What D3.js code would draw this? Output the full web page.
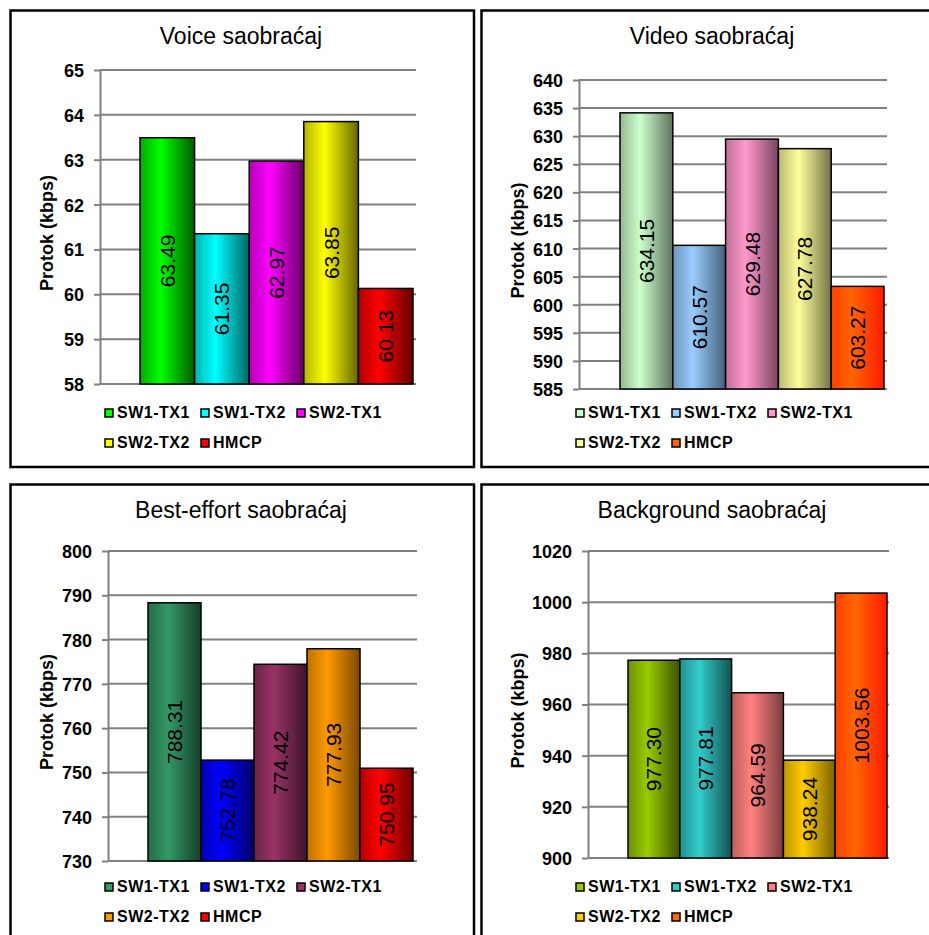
<!DOCTYPE html>
<html lang="sr">
<head>
<meta charset="UTF-8">
<title>Protok po tipu saobraćaja</title>
<script src="https://d3js.org/d3.v7.min.js"></script>
<style>
    body { margin: 0; background: #fff; }
    svg { display: block; font-family: "Liberation Sans", Arial, sans-serif; }
    .title { font-size: 23px; }
    .ytitle { font-size: 18px; font-weight: bold; }
    .axis text { font-size: 18px; font-weight: bold; fill: #000; font-family: "Liberation Sans", Arial, sans-serif; }
    .axis path, .axis line { stroke: #808080; stroke-width: 2; }
    .grid line { stroke: #808080; stroke-width: 2; }
    .vlabel { font-size: 21px; }
    .legend text { font-size: 16px; font-weight: bold; letter-spacing: 0.5px; }
</style>
</head>
<body>
<script>
    // series names (legend)
    var series = ["SW1-TX1", "SW1-TX2", "SW2-TX1", "SW2-TX2", "HMCP"];

    var titles = ["Voice saobraćaj", "Video saobraćaj", "Best-effort saobraćaj", "Background saobraćaj"];
    var yLabel = "Protok (kbps)";

    // values
    var voiceValues = [63.49, 61.35, 62.97, 63.85, 60.13];
    var videoValues = [634.15, 610.57, 629.48, 627.78, 603.27];
    var bestEffortValues = [788.31, 752.78, 774.42, 777.93, 750.95];
    var backgroundValues = [977.30, 977.81, 964.59, 938.24, 1003.56];

    // y tick labels of each chart
    var voiceTicks = [58, 59, 60, 61, 62, 63, 64, 65];
    var videoTicks = [585, 590, 595, 600, 605, 610, 615, 620, 625, 630, 635, 640];
    var bestEffortTicks = [730, 740, 750, 760, 770, 780, 790, 800];
    var backgroundTicks = [900, 920, 940, 960, 980, 1000, 1020];

    // bar colours: centre colour and the darker edge of the gradient
    var voiceColors = [["#00ff00", "#005a00"], ["#00ffff", "#006666"], ["#ff00ff", "#660066"], ["#ffff00", "#666600"], ["#ff0000", "#660000"]];
    var videoColors = [["#ccffcc", "#5e735e"], ["#99ccff", "#45607a"], ["#ff99cc", "#7a4560"], ["#ffff99", "#73734a"], ["#ff6600", "#ff1a00"]];
    var bestEffortColors = [["#339966", "#143d29"], ["#0000ff", "#000066"], ["#993366", "#3d1429"], ["#ff9900", "#7a4a00"], ["#ff0000", "#700000"]];
    var backgroundColors = [["#99cc00", "#3d5200"], ["#33cccc", "#145252"], ["#ff8080", "#7a3d3d"], ["#ffcc00", "#7a6200"], ["#ff6600", "#ff1a00"]];

    var charts = [
        { title: titles[0], values: voiceValues, ticks: voiceTicks, colors: voiceColors,
          px: 10, py: 10, axisX: 90, top: 60, bottom: 374, right: 406, barL: 130, barR: 403 },
        { title: titles[1], values: videoValues, ticks: videoTicks, colors: videoColors,
          px: 481, py: 10, axisX: 98, top: 70, bottom: 379, right: 406, barL: 139, barR: 403 },
        { title: titles[2], values: bestEffortValues, ticks: bestEffortTicks, colors: bestEffortColors,
          px: 10, py: 484, axisX: 98, top: 67, bottom: 377, right: 407, barL: 138, barR: 403 },
        { title: titles[3], values: backgroundValues, ticks: backgroundTicks, colors: backgroundColors,
          px: 481, py: 484, axisX: 107, top: 67, bottom: 374, right: 408, barL: 147, barR: 406 }
    ];

    var W = 929, H = 935;
    var panelW = 463.5, panelH = 456.5;

    var svg = d3.select("body").append("svg")
        .attr("width", W)
        .attr("height", H);

    var defs = svg.append("defs");

    charts.forEach(function(c, ci) {
        var g = svg.append("g").attr("transform", "translate(" + c.px + "," + c.py + ")");

        // panel frame
        g.append("rect")
            .attr("x", 0.5).attr("y", 0.5)
            .attr("width", panelW).attr("height", panelH)
            .attr("fill", "#fff")
            .attr("stroke", "#000")
            .attr("stroke-width", 2.5);

        g.append("text")
            .attr("class", "title")
            .attr("x", 231).attr("y", 34)
            .attr("text-anchor", "middle")
            .text(c.title);

        var y = d3.scaleLinear()
            .domain([c.ticks[0], c.ticks[c.ticks.length - 1]])
            .range([c.bottom, c.top]);

        var x = d3.scaleBand()
            .domain(series)
            .range([c.barL, c.barR])
            .padding(0);

        // gridlines
        g.append("g").attr("class", "grid")
            .selectAll("line")
            .data(c.ticks)
            .enter().append("line")
            .attr("x1", c.axisX).attr("x2", c.right)
            .attr("y1", function(d) { return y(d); })
            .attr("y2", function(d) { return y(d); });

        var axis = d3.axisLeft(y)
            .tickValues(c.ticks)
            .tickFormat(d3.format("d"))
            .tickSize(6).tickPadding(10).tickSizeOuter(0);
        var ag = g.append("g")
            .attr("class", "axis")
            .attr("transform", "translate(" + c.axisX + ",0)")
            .call(axis);
        ag.selectAll("text").attr("dy", "0.36em");

        g.append("text")
            .attr("class", "ytitle")
            .attr("transform", "translate(37," + ((c.top + c.bottom) / 2 + 6) + ") rotate(-90)")
            .attr("text-anchor", "middle")
            .attr("dy", "0.35em")
            .text(yLabel);

        // gradients
        c.colors.forEach(function(col, si) {
            var mid = d3.interpolateRgb(col[1], col[0])(0.5);
            var grad = defs.append("linearGradient")
                .attr("id", "g" + ci + "_" + si)
                .attr("x1", "0%").attr("x2", "100%")
                .attr("y1", "0%").attr("y2", "0%");
            grad.append("stop").attr("offset", "0%").attr("stop-color", mid);
            grad.append("stop").attr("offset", "38%").attr("stop-color", col[0]);
            grad.append("stop").attr("offset", "100%").attr("stop-color", col[1]);
        });

        var bars = g.append("g").selectAll("g")
            .data(c.values)
            .enter().append("g");

        bars.append("rect")
            .attr("x", function(d, i) { return x(series[i]); })
            .attr("y", function(d) { return y(d); })
            .attr("width", x.bandwidth())
            .attr("height", function(d) { return y(c.ticks[0]) - y(d); })
            .attr("fill", function(d, i) { return "url(#g" + ci + "_" + i + ")"; })
            .attr("stroke", "#000")
            .attr("stroke-width", 1.5);

        bars.append("text")
            .attr("class", "vlabel")
            .attr("transform", function(d, i) {
                var cx = x(series[i]) + x.bandwidth() / 2;
                var cy = (y(d) + y(c.ticks[0])) / 2;
                return "translate(" + cx + "," + cy + ") rotate(-90)";
            })
            .attr("text-anchor", "middle")
            .attr("dy", "0.36em")
            .text(function(d) { return d.toFixed(2); });

        // legend, 3 items per row
        var lg = g.append("g").attr("class", "legend");
        series.forEach(function(s, i) {
            var lx = 95 + (i % 3) * 96;
            var ly = 408 + Math.floor(i / 3) * 30;
            lg.append("rect")
                .attr("x", lx).attr("y", ly - 9)
                .attr("width", 8).attr("height", 8)
                .attr("fill", c.colors[i][0])
                .attr("stroke", "#000")
                .attr("stroke-width", 1.5);
            lg.append("text")
                .attr("x", lx + 12).attr("y", ly)
                .text(s);
        });
    });
</script>
</body>
</html>
